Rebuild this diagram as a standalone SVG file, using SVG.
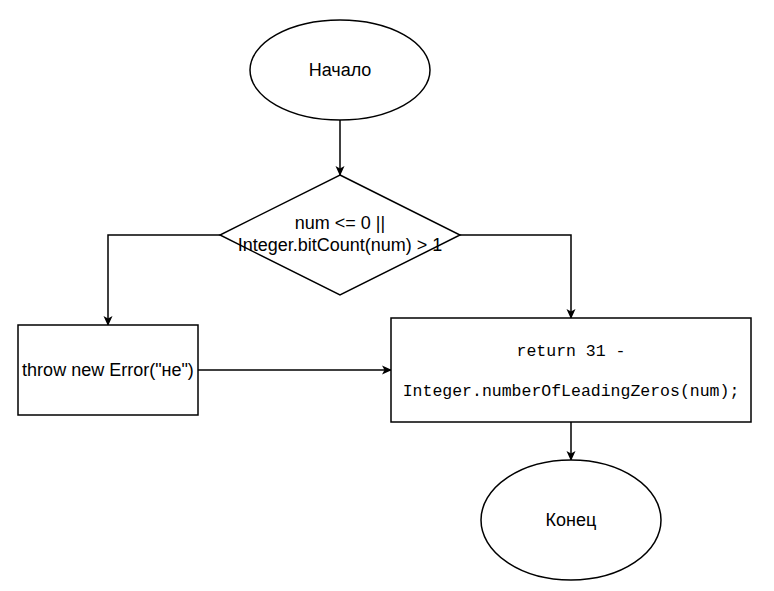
<svg xmlns="http://www.w3.org/2000/svg" width="774" height="591" viewBox="0 0 774 591">
<defs>
<marker id="arr" viewBox="0 0 10 10" refX="9" refY="5" markerWidth="10" markerHeight="10" markerUnits="userSpaceOnUse" orient="auto">
<path d="M0,0.5 L10,5 L0,9.5 L2.5,5 Z" fill="#000"/>
</marker>
<style>
.shape{fill:#fff;stroke:#000;stroke-width:1.5}
.edge{fill:none;stroke:#000;stroke-width:1.5;marker-end:url(#arr)}
.t{font-family:"Liberation Sans",Arial,sans-serif;font-size:18px;fill:#000;text-anchor:middle;dominant-baseline:central}
.m{font-family:"Liberation Mono","DejaVu Sans Mono",monospace;font-size:16.5px;fill:#000;text-anchor:middle;dominant-baseline:central}
</style>
</defs>
<rect width="774" height="591" fill="#fff"/>
<g id="connectors">
<path class="edge" d="M340,120 L340,175"/>
<path class="edge" d="M220,235 L108,235 L108,325"/>
<path class="edge" d="M460,235 L571,235 L571,318"/>
<path class="edge" d="M198,370 L391,370"/>
<path class="edge" d="M571,422 L571,460"/>
</g>
<g id="start">
<ellipse class="shape" cx="340" cy="70" rx="90" ry="50"/>
<text class="t" x="340" y="70">Начало</text>
</g>
<g id="decision">
<polygon class="shape" points="340,175 460,235 340,295 220,235"/>
<text class="t" x="340" y="223">num &lt;= 0 ||</text>
<text class="t" x="340" y="245">Integer.bitCount(num) &gt; 1</text>
</g>
<g id="throw">
<rect class="shape" x="18" y="325" width="180" height="90"/>
<text class="t" x="108" y="370">throw new Error("не")</text>
</g>
<g id="return">
<rect class="shape" x="391" y="318" width="360" height="104"/>
<text class="m" x="571" y="351">return 31 -</text>
<text class="m" x="571" y="391">Integer.numberOfLeadingZeros(num);</text>
</g>
<g id="end">
<ellipse class="shape" cx="571" cy="520" rx="90" ry="60"/>
<text class="t" x="571" y="520">Конец</text>
</g>
</svg>
